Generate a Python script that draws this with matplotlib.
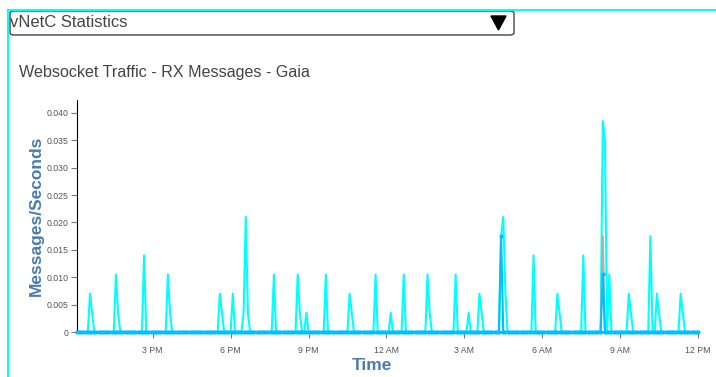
"""Websocket RX message rate over the last 24 h, redrawn from the vNetC stats panel."""
import matplotlib
matplotlib.use("Agg")
import matplotlib.pyplot as plt
import matplotlib.dates as mdates
from matplotlib.patches import FancyBboxPatch, Polygon
from matplotlib.lines import Line2D
from matplotlib.ticker import MultipleLocator, FuncFormatter
import pandas as pd

# 5 minute samples, noon to noon
start, end = "2020-01-01 12:05", "2020-01-02 12:00"

# non-zero samples only (everything else is 0); times before noon are next day
rx_times = ["12:35", "12:40", "13:35", "13:40", "14:40", "15:35", "15:40",
            "17:35", "17:40", "18:05", "18:30", "18:35", "18:40", "19:40",
            "20:35", "20:40", "20:55", "21:40", "22:35", "22:40", "23:35",
            "00:10", "00:40", "01:35", "01:40", "02:40", "03:10", "03:35", "03:40",
            "04:25", "04:30", "04:35", "05:40", "06:35", "06:40", "07:35",
            "08:20", "08:25", "08:35", "09:20", "09:25", "10:10", "10:25", "10:30",
            "11:20", "11:25"]
rx_values = [0.007, 0.0035, 0.0105, 0.0035, 0.014, 0.0105, 0.0035,
             0.007, 0.0035, 0.007, 0.0035, 0.021, 0.0035, 0.0105,
             0.0105, 0.0035, 0.0035, 0.0105, 0.007, 0.0035, 0.0105,
             0.0035, 0.0105, 0.0105, 0.0035, 0.0105, 0.0035, 0.007, 0.0035,
             0.0175, 0.021, 0.007, 0.014, 0.007, 0.0035, 0.014,
             0.0385, 0.035, 0.0105, 0.007, 0.0035, 0.0175, 0.007, 0.0035,
             0.007, 0.0035]

# second series (deep sky blue) and third series (grey)
blue_times = ["04:25", "08:20"]
blue_values = [0.0175, 0.0105]
grey_times = ["08:20"]
grey_values = [0.0175]

x_ticklabels_fmt = "%-I %p"


def series(times, values):
    idx = pd.date_range(start, end, freq="5min")
    s = pd.Series(0.0, index=idx)
    for t, v in zip(times, values):
        day = "2020-01-02" if int(t[:2]) < 12 else "2020-01-01"
        s[pd.Timestamp(f"{day} {t}")] = v
    return s


W, H = 716, 377
fig = plt.figure(figsize=(W / 100, H / 100), dpi=100)


def fx(px):
    return px / W


def fy(py):
    return 1 - py / H


# panel frame + dropdown header
fig.add_artist(Line2D([fx(8), 1], [fy(10), fy(10)], color="#00ffff", lw=1.5))
fig.add_artist(Line2D([fx(8), fx(8)], [fy(10), 0], color="#00ffff", lw=1.5))
fig.add_artist(FancyBboxPatch((fx(10), fy(35)), fx(504), fy(11) - fy(35),
                              boxstyle="round,pad=0,rounding_size=0.006",
                              fc="white", ec="#444444", lw=1, transform=fig.transFigure))
fig.add_artist(Polygon([[fx(491), fy(16)], [fx(506), fy(16)], [fx(498.5), fy(30)]],
                       closed=True, color="black", transform=fig.transFigure))
fig.text(fx(10), fy(22.5), "vNetC Statistics", fontsize=12, color="#444444",
         va="center", ha="left", family="Liberation Sans")
fig.text(fx(19), fy(73), "Websocket Traffic - RX Messages - Gaia", fontsize=11.6,
         color="#444444", va="center", ha="left", family="Liberation Sans")

ax = fig.add_axes([fx(77), fy(332), fx(698 - 77), fy(100) - fy(332)])
rx = series(rx_times, rx_values)
blue = series(blue_times, blue_values)
grey = series(grey_times, grey_values)
ax.plot(rx.index, rx.values, color="#00ffff", lw=1.5, zorder=2, clip_on=False)
ax.plot(grey.index, grey.values, color="#aaaaaa", lw=1.5, alpha=0.9, zorder=3)
ax.plot(blue.index, blue.values, color="#00bfff", lw=1.5, marker="o", ms=3,
        mec="none", zorder=4, clip_on=False)

ax.set_xlim(pd.Timestamp(start), pd.Timestamp(end))
ax.set_ylim(0, 0.0385 * 1.1)
ax.yaxis.set_major_locator(MultipleLocator(0.005))
ax.yaxis.set_major_formatter(FuncFormatter(lambda v, _: "0" if v == 0 else f"{v:.3f}"))
ax.xaxis.set_major_locator(mdates.HourLocator(byhour=range(0, 24, 3)))
ax.xaxis.set_major_formatter(mdates.DateFormatter(x_ticklabels_fmt))

for side in ("top", "right"):
    ax.spines[side].set_visible(False)
ax.spines["left"].set_color("black")
ax.spines["bottom"].set_color("black")
ax.tick_params(axis="both", colors="#777777", labelcolor="#555555",
               labelsize=6.3, length=4, width=0.8, pad=2)
ax.tick_params(axis="x", pad=6)
for lab in ax.get_xticklabels() + ax.get_yticklabels():
    lab.set_family("Liberation Sans")

fig.text(fx(36), fy(216), "Messages/Seconds", rotation=90, fontsize=12.5,
         fontweight="bold", color="#4a7cb0", ha="center", va="center",
         family="Liberation Sans")
fig.text(fx(372), fy(366), "Time", fontsize=12.5, fontweight="bold", color="#4a7cb0",
         ha="center", va="center", family="Liberation Sans")

fig.savefig("out.png", dpi=100)
